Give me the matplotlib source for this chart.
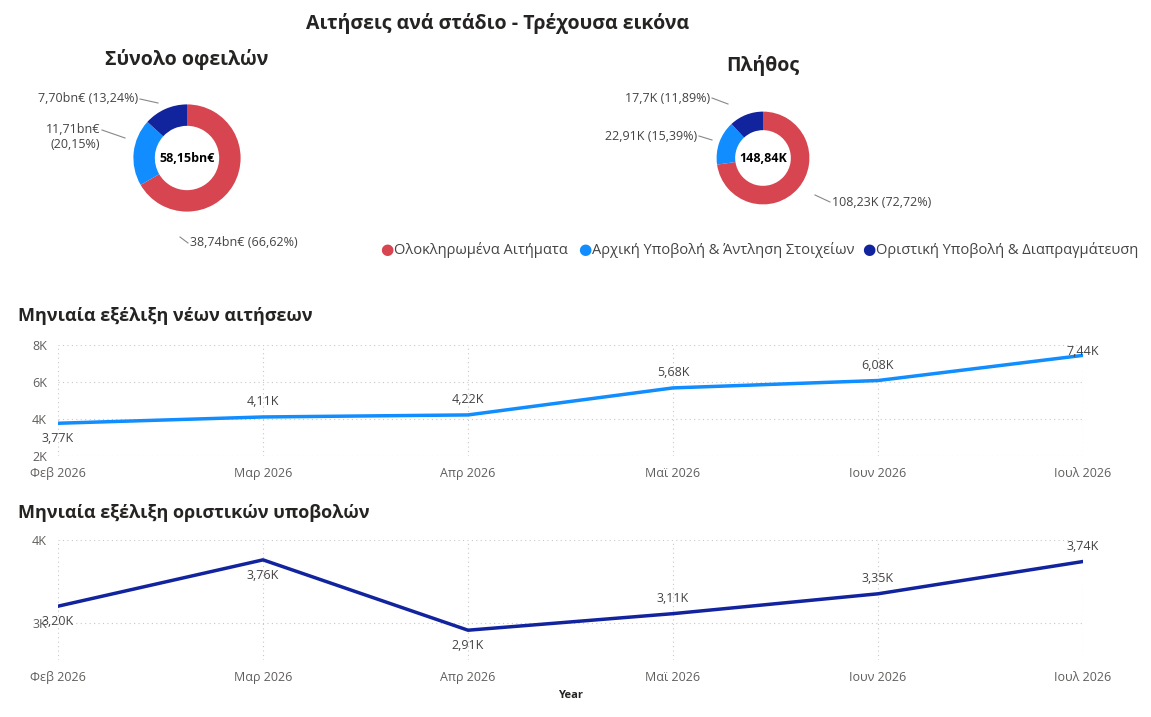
import matplotlib.pyplot as plt
import numpy as np

months = ['Φεβ 2026', 'Μαρ 2026', 'Απρ 2026', 'Μαϊ 2026', 'Ιουν 2026', 'Ιουλ 2026']
new_apps = [3.77, 4.11, 4.22, 5.68, 6.08, 7.44]
final_subs = [3.20, 3.76, 2.91, 3.11, 3.35, 3.74]
stages = ['Ολοκληρωμένα Αιτήματα', 'Αρχική Υποβολή & Άντληση Στοιχείων', 'Οριστική Υποβολή & Διαπραγμάτευση']
amounts = [38.74, 11.71, 7.70]
counts = [108.23, 22.91, 17.7]
colors = ['#D64550', '#118DFF', '#12239E']

W, H = 1151, 717
fig = plt.figure(figsize=(W / 100, H / 100), dpi=100)
plt.rcParams['font.family'] = ['Open Sans', 'DejaVu Sans']

def px(x, y):
    return x / W, 1 - y / H

def donut(cx, cy, r, vals, center, labels):
    ax = fig.add_axes([(cx - r) / W, 1 - (cy + r) / H, 2 * r / W, 2 * r / H])
    ax.pie(vals, colors=colors, startangle=90, counterclock=False,
           wedgeprops=dict(width=0.4, edgecolor='white', linewidth=0))
    ax.set_aspect('equal')
    ax.text(0, 0, center, ha='center', va='center', fontsize=9, fontweight='bold')
    for (tx, ty, ha, s, seg) in labels:
        fig.text(*px(tx, ty), s, ha=ha, va='center', fontsize=9, color='#444444')
        (x0, y0), (x1, y1) = px(*seg[0]), px(*seg[1])
        fig.add_artist(plt.Line2D([x0, x1], [y0, y1], color='#888888', lw=0.8))

fig.text(*px(498, 24), 'Αιτήσεις ανά στάδιο - Τρέχουσα εικόνα', ha='center', va='center',
         fontsize=14, fontweight='bold', color='#252423')
fig.text(*px(187, 60), 'Σύνολο οφειλών', ha='center', va='center', fontsize=14, fontweight='bold', color='#252423')
fig.text(*px(763, 65), 'Πλήθος', ha='center', va='center', fontsize=14, fontweight='bold', color='#252423')

donut(187, 158, 67, amounts, '58,15bn€', [
    (190, 243, 'left', '38,74bn€ (66,62%)', ((180, 237), (188, 243))),
    (100, 137, 'right', '11,71bn€\n(20,15%)', ((102, 130), (125, 138))),
    (138, 99, 'right', '7,70bn€ (13,24%)', ((140, 99), (158, 103))),
])
donut(763, 158, 58, counts, '148,84K', [
    (832, 202, 'left', '108,23K (72,72%)', ((815, 195), (830, 202))),
    (697, 136, 'right', '22,91K (15,39%)', ((699, 136), (712, 140))),
    (710, 98, 'right', '17,7K (11,89%)', ((712, 98), (728, 104))),
])

# legend
lx = [380, 578, 862]
for x, s, c in zip(lx, stages, colors):
    fig.text(*px(x, 250), '●', color=c, ha='left', va='center', fontsize=11)
    fig.text(*px(x + 14, 250), s, ha='left', va='center', fontsize=10.5, color='#444444')

def line_chart(bottom, height, vals, color, ylim, yticks, ylabels, title, ty, offsets):
    ax = fig.add_axes([58 / W, bottom, 1025 / W, height])
    x = np.arange(len(vals))
    ax.plot(x, vals, color=color, lw=2.5)
    ax.set_xlim(0, len(vals) - 1)
    ax.set_ylim(*ylim)
    ax.set_yticks(yticks)
    ax.set_yticklabels(ylabels, fontsize=9, color='#605E5C')
    ax.set_xticks(x)
    ax.set_xticklabels(months, fontsize=9, color='#605E5C')
    ax.tick_params(length=0, pad=8)
    ax.grid(True, color='#C8C8C8', ls=(0, (1, 3)), lw=0.8)
    for s in ax.spines.values():
        s.set_visible(False)
    for xi, v, o in zip(x, vals, offsets):
        ax.annotate(f'{v:.2f}K'.replace('.', ','), (xi, v), xytext=(0, o), textcoords='offset points',
                    ha='center', va='center', fontsize=9, color='#444444')
    fig.text(*px(18, ty), title, ha='left', va='center', fontsize=13, fontweight='bold', color='#252423')
    return ax

line_chart(1 - 456 / H, 111 / H, new_apps, '#118DFF', (2, 8), [2, 4, 6, 8],
           ['2K', '4K', '6K', '8K'], 'Μηνιαία εξέλιξη νέων αιτήσεων', 316, [-11, 11, 11, 11, 11, 3])
ax2 = line_chart(1 - 660 / H, 120 / H, final_subs, '#12239E', (2.55, 4.0), [3, 4],
                 ['3K', '4K'], 'Μηνιαία εξέλιξη οριστικών υποβολών', 513, [-11, -11, -11, 11, 11, 11])
ax2.set_xlabel('Year', fontsize=8, fontweight='bold', color='#252423', labelpad=4)

fig.savefig('out.png', dpi=100)
